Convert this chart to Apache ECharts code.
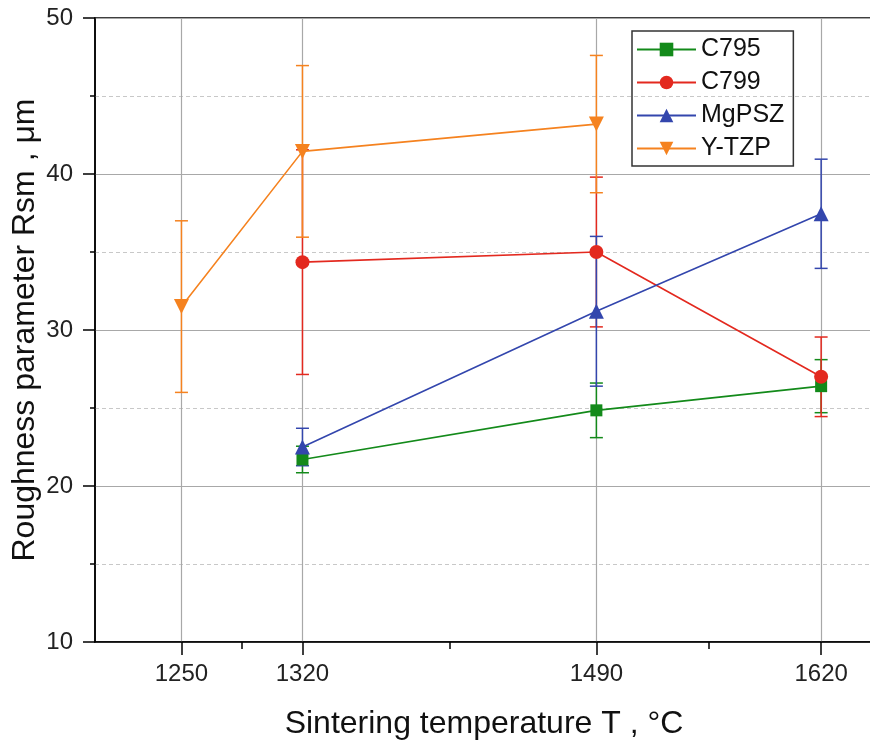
<!DOCTYPE html>
<html>
<head>
<meta charset="utf-8">
<script src="https://cdn.jsdelivr.net/npm/echarts@6/dist/echarts.min.js"></script>
<style>
  html, body { margin: 0; padding: 0; background: #fff; }
  #chart { width: 870px; height: 746px; }
</style>
</head>
<body>
<div id="chart"></div>
<script>
// sintering temperatures (°C)
var temps = [1250, 1320, 1490, 1620];
var majorTicks = [1250, 1320, 1490, 1620];
var minorTicks = [1285, 1405, 1555];

// Rsm values and error (+/-) per material, null = not measured
var c795 = [null, 21.7, 24.85, 26.4];
var c795Err = [null, 0.85, 1.75, 1.7];
var c799 = [null, 34.35, 35.0, 27.0];
var c799Err = [null, 7.2, 4.8, 2.55];
var mgpsz = [null, 22.5, 31.2, 37.45];
var mgpszErr = [null, 1.2, 4.8, 3.5];
var ytzp = [31.5, 41.45, 43.2, null];
var ytzpErr = [5.5, 5.5, 4.4, null];

var FONT = '"Liberation Sans", Arial, sans-serif';

// 点数据 [x, y]
function points(vals) {
    var out = [];
    for (var i = 0; i < temps.length; i++) {
        if (vals[i] !== null) out.push([temps[i], vals[i]]);
    }
    return out;
}
// 误差数据 [x, low, high]
function errs(vals, e) {
    var out = [];
    for (var i = 0; i < temps.length; i++) {
        if (vals[i] !== null) out.push([temps[i], vals[i] - e[i], vals[i] + e[i]]);
    }
    return out;
}

function errorSeries(name, color, vals, e) {
    return {
        type: 'custom',
        name: name + ' err',
        z: 2,
        clip: true,
        encode: { x: 0, y: [1, 2] },
        data: errs(vals, e),
        renderItem: function(params, api) {
            var lo = api.coord([api.value(0), api.value(1)]);
            var hi = api.coord([api.value(0), api.value(2)]);
            var hw = 6.5;
            var st = { stroke: color, lineWidth: 1.5 };
            return {
                type: 'group',
                children: [
                    { type: 'line', shape: { x1: lo[0], y1: lo[1], x2: hi[0], y2: hi[1] }, style: st },
                    { type: 'line', shape: { x1: lo[0] - hw, y1: lo[1], x2: lo[0] + hw, y2: lo[1] }, style: st },
                    { type: 'line', shape: { x1: hi[0] - hw, y1: hi[1], x2: hi[0] + hw, y2: hi[1] }, style: st }
                ]
            };
        }
    };
}

function lineSeries(name, color, vals, symbol, size, rotate) {
    return {
        type: 'line',
        name: name,
        z: 3,
        data: points(vals),
        symbol: symbol,
        symbolSize: size,
        symbolRotate: rotate || 0,
        showAllSymbol: true,
        lineStyle: { color: color, width: 1.6 },
        itemStyle: { color: color },
        emphasis: { disabled: true }
    };
}

var green = '#138a1a', red = '#e3291f', blue = '#3346ad', orange = '#f5821f';

var chart = echarts.init(document.getElementById('chart'), null, { renderer: 'canvas' });
var option = {
    animation: false,
    backgroundColor: '#fff',
    grid: {
        left: 95, top: 18, width: 778, height: 624,
        outerBoundsMode: 'none', containLabel: false,
        show: true, borderColor: '#000', borderWidth: 1.5, backgroundColor: '#fff'
    },
    legend: {
        data: ['C795', 'C799', 'MgPSZ', 'Y-TZP'],
        orient: 'vertical',
        left: 632, top: 31,
        padding: [6, 9, 5, 4],
        itemWidth: 59, itemHeight: 17, itemGap: 8,
        borderColor: '#333', borderWidth: 1.5,
        textStyle: { fontFamily: FONT, fontSize: 25, color: '#111' }
    },
    xAxis: [{
        type: 'value', min: 1200, max: 1650, position: 'bottom',
        name: 'Sintering temperature T , °C',
        nameLocation: 'middle', nameGap: 66, nameMoveOverlap: false,
        nameTextStyle: { fontFamily: FONT, fontSize: 32, color: '#111' },
        axisLine: { onZero: false, lineStyle: { color: '#000', width: 1.5 } },
        axisTick: { customValues: majorTicks, length: 13, lineStyle: { color: '#000', width: 1.5 } },
        axisLabel: {
            customValues: majorTicks, fontFamily: FONT, fontSize: 24, color: '#222', margin: 20,
            formatter: function(v) { return String(v); }
        },
        splitLine: { show: true, lineStyle: { color: '#a8a8a8', width: 1.2 } }
    }, {
        type: 'value', min: 1200, max: 1650, position: 'bottom',
        axisLine: { show: false },
        axisTick: { customValues: minorTicks, length: 7, lineStyle: { color: '#000', width: 1.5 } },
        axisLabel: { show: false },
        splitLine: { show: false }
    }],
    yAxis: {
        type: 'value', min: 10, max: 50, interval: 10,
        name: 'Roughness parameter Rsm , μm',
        nameLocation: 'middle', nameGap: 54, nameMoveOverlap: false,
        nameTextStyle: { fontFamily: FONT, fontSize: 32, color: '#111' },
        axisLine: { show: true, lineStyle: { color: '#000', width: 1.5 } },
        axisTick: { length: 12, lineStyle: { color: '#000', width: 1.5 } },
        minorTick: { show: true, splitNumber: 2, length: 5, lineStyle: { color: '#000', width: 1.5 } },
        axisLabel: { fontFamily: FONT, fontSize: 24, color: '#222', margin: 22 },
        splitLine: { show: true, lineStyle: { color: '#a8a8a8', width: 1.2 } },
        minorSplitLine: { show: true, lineStyle: { color: '#c8c8c8', width: 1, type: [4, 3] } }
    },
    series: [
        errorSeries('C795', green, c795, c795Err),
        errorSeries('C799', red, c799, c799Err),
        errorSeries('MgPSZ', blue, mgpsz, mgpszErr),
        errorSeries('Y-TZP', orange, ytzp, ytzpErr),
        lineSeries('C795', green, c795, 'rect', 12),
        lineSeries('C799', red, c799, 'circle', 14),
        lineSeries('MgPSZ', blue, mgpsz, 'triangle', 15),
        lineSeries('Y-TZP', orange, ytzp, 'triangle', 15, 180)
    ]
};
chart.setOption(option);
</script>
</body>
</html>
